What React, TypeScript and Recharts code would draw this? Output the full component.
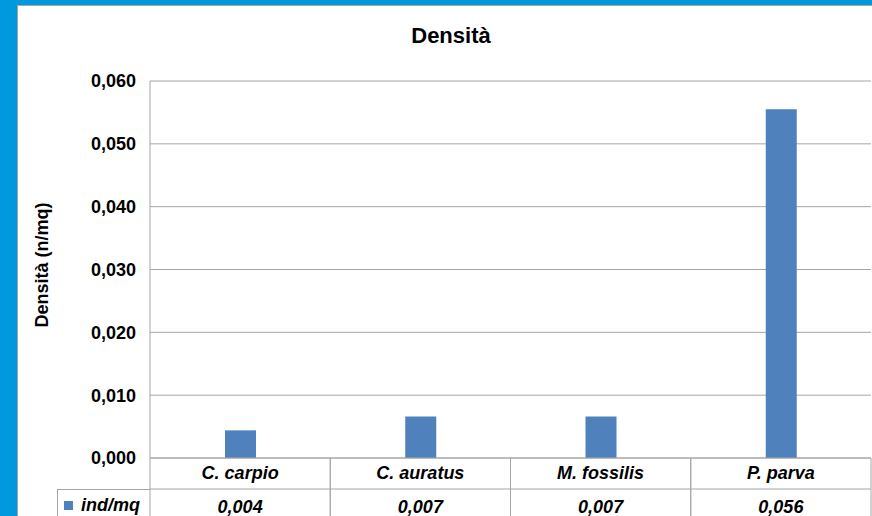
import React from 'react';
import { BarChart, Bar, XAxis, YAxis, CartesianGrid, Legend } from 'recharts';

const species = ['C. carpio', 'C. auratus', 'M. fossilis', 'P. parva'];
const density = [0.0044, 0.0066, 0.0066, 0.0555];
const tableLabels = ['0,004', '0,007', '0,007', '0,056'];
const yTicks = [0, 0.01, 0.02, 0.03, 0.04, 0.05, 0.06];

const data = species.map((name, i) => ({ name, value: density[i] }));

const FONT = '"Liberation Sans", Arial, sans-serif';
const LINE = '#a6a6a6';
const BAR = '#4f81bd';
const ROW = 31;

const CatTick = (props: any) => {
    const { x, y, payload } = props;
    const half = payload.offset || 90;
    return (
        <g>
            <line x1={x - half} y1={y} x2={x - half} y2={y + ROW} stroke={LINE} />
            <line x1={x + half} y1={y} x2={x + half} y2={y + ROW} stroke={LINE} />
            <text x={x} y={y + 21} textAnchor="middle" fontFamily={FONT} fontSize={18}
                fontWeight="bold" fontStyle="italic" fill="#000">
                {payload.value}
            </text>
        </g>
    );
};

const ValTick = (props: any) => {
    const { x, y, payload } = props;
    const half = payload.offset || 90;
    return (
        <g>
            <line x1={x - half} y1={y} x2={x + half} y2={y} stroke={LINE} />
            <line x1={x - half} y1={y} x2={x - half} y2={y + 40} stroke={LINE} />
            <line x1={x + half} y1={y} x2={x + half} y2={y + 40} stroke={LINE} />
            <text x={x} y={y + 24} textAnchor="middle" fontFamily={FONT} fontSize={18}
                fontWeight="bold" fontStyle="italic" fill="#000">
                {tableLabels[payload.index]}
            </text>
        </g>
    );
};

const LegendCell = (props: any) => {
    const item = props.payload && props.payload[0];
    return (
        <div style={{ display: 'flex', alignItems: 'center', height: 31, paddingLeft: 6,
            fontFamily: FONT, fontSize: 18, fontWeight: 'bold', fontStyle: 'italic' }}>
            <span style={{ width: 9, height: 9, background: item ? item.color : BAR, marginRight: 8 }} />
            <span>{item ? item.value : 'ind/mq'}</span>
        </div>
    );
};

const App: React.FC = () => {
    return (
        <div style={{ position: 'absolute', left: 0, top: 0, width: 872, height: 516, overflow: 'hidden', background: '#0099dd' }}>
            <div style={{ position: 'absolute', left: 17, top: 5, width: 900, height: 600, background: '#fff',
                borderLeft: `1px solid ${LINE}`, borderTop: `1px solid ${LINE}` }} />
            <div style={{ position: 'absolute', left: 0, top: 23, width: 902, textAlign: 'center',
                fontFamily: FONT, fontSize: 22, fontWeight: 'bold' }}>
                Densità
            </div>
            <div style={{ position: 'absolute', left: 0, top: 0 }}>
                <BarChart width={872} height={522} data={data}
                    margin={{ top: 81, right: 1, bottom: 2, left: 0 }}>
                    <CartesianGrid vertical={false} stroke={LINE} />
                    <XAxis xAxisId="c" dataKey="name" type="category" height={ROW}
                        tickSize={0} tickMargin={0} tickLine={false}
                        axisLine={{ stroke: LINE }} tick={<CatTick />} interval={0} />
                    <XAxis xAxisId="v" dataKey="name" type="category" height={ROW}
                        tickSize={0} tickMargin={0} tickLine={false}
                        axisLine={false} tick={<ValTick />} interval={0} />
                    <YAxis width={150} domain={[0, 0.06]} ticks={yTicks} interval={0}
                        tickLine={false} axisLine={{ stroke: LINE }} tickMargin={8}
                        tickFormatter={(v: number) => v.toFixed(3).replace('.', ',')}
                        tick={{ fill: '#000', fontSize: 18, fontWeight: 'bold', fontFamily: FONT }}
                        label={() => (
                            <text x={42} y={265} transform="rotate(-90 42 265)" textAnchor="middle"
                                dominantBaseline="central" fontFamily={FONT} fontSize={18}
                                fontWeight="bold" fill="#000">
                                Densità (n/mq)
                            </text>
                        )} />
                    <Legend layout="horizontal" verticalAlign="middle" align="center"
                        content={<LegendCell />}
                        wrapperStyle={{ left: 57, top: 489, width: 93, height: 40,
                            borderLeft: `1px solid ${LINE}`, borderTop: `1px solid ${LINE}`, boxSizing: 'border-box' }} />
                    <Bar xAxisId="c" dataKey="value" name="ind/mq" fill={BAR} barSize={31}
                        isAnimationActive={false} />
                </BarChart>
            </div>
        </div>
    );
};

export default App;
